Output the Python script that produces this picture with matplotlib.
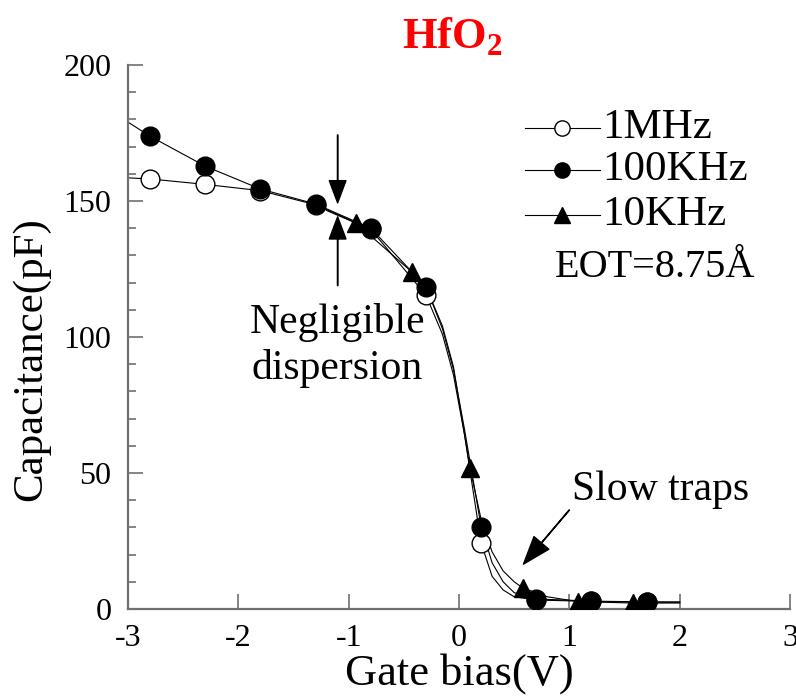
import numpy as np
import matplotlib
matplotlib.use("Agg")
import matplotlib.pyplot as plt

plt.rcParams['font.family'] = ['Liberation Serif', 'DejaVu Serif']
plt.rcParams['mathtext.fontset'] = 'custom'
plt.rcParams['mathtext.rm'] = 'Liberation Serif'
plt.rcParams['mathtext.bf'] = 'Liberation Serif:bold'

# marker data
v_1m = [-2.8, -2.3, -1.8, -1.3, -0.8, -0.3, 0.2, 0.7, 1.2, 1.7]
c_1m = [158.1, 156.1, 153.8, 148.6, 139.6, 115.4, 24.3, 3.3, 2.8, 2.5]

v_100k = [-2.8, -2.3, -1.8, -1.3, -0.8, -0.3, 0.2, 0.7, 1.2, 1.7]
c_100k = [173.8, 162.8, 154.4, 148.9, 140.0, 118.5, 30.3, 3.7, 2.9, 2.6]

v_10k = [-0.93, -0.43, 0.10, 0.58, 1.08, 1.58]
c_10k = [141.8, 124.0, 51.7, 7.7, 2.7, 2.2]

# fitted curves as they appear in the picture
v_1m_line = [-3.0, -2.8, -2.3, -1.8, -1.3, -0.8, -0.3, -0.15, -0.05, 0.05, 0.2, 0.3, 0.4, 0.5, 0.7, 1.2, 1.7, 2.0]
c_1m_line = [158.5, 158.1, 156.1, 153.8, 148.6, 139.6, 115.4, 101, 86, 64, 24.3, 12, 7, 4.5, 3.3, 2.8, 2.5, 2.5]

v_100k_line = [-3.0, -2.8, -2.3, -1.8, -1.3, -0.8, -0.3, -0.15, -0.05, 0.05, 0.2, 0.3, 0.4, 0.5, 0.7, 1.2, 1.7, 2.0]
c_100k_line = [179.0, 173.8, 162.8, 154.4, 148.9, 140.0, 118.5, 103, 88, 66, 30.3, 17, 10, 6, 3.7, 2.9, 2.6, 2.6]

v_10k_line = [-1.2, -0.93, -0.43, -0.3, -0.15, -0.05, 0.1, 0.2, 0.3, 0.4, 0.5, 0.58, 0.8, 1.08, 1.58, 2.0]
c_10k_line = [146.5, 141.8, 124.0, 118.5, 104, 89, 51.7, 33, 21, 14, 10, 7.7, 4.5, 2.7, 2.2, 2.2]

labels = ['1MHz', '100KHz', '10KHz']

fig = plt.figure(figsize=(7.96, 6.98), dpi=100)
ax = fig.add_axes([0.1608, 0.1275, 0.8317, 0.7794])

ax.plot(v_1m_line, c_1m_line, color='k', lw=0.8, zorder=2)
ax.plot(v_100k_line, c_100k_line, color='k', lw=0.8, zorder=2)
ax.plot(v_10k_line, c_10k_line, color='k', lw=0.8, zorder=2)

ax.plot(v_1m, c_1m, 'o', ms=13.5, mfc='white', mec='k', mew=1, zorder=3)
ax.plot(v_100k, c_100k, 'o', ms=13.5, mfc='k', mec='k', zorder=4)
ax.plot(v_10k, c_10k, '^', ms=13.5, mfc='k', mec='k', zorder=5)

# hand-placed legend (rows spaced like the original)
leg_y = [0.884, 0.807, 0.724]
leg_style = [dict(marker='o', mfc='white'), dict(marker='o', mfc='k'), dict(marker='^', mfc='k')]
for yy, lab, st in zip(leg_y, labels, leg_style):
    ax.plot([0.600, 0.713], [yy, yy], transform=ax.transAxes, color='k', lw=0.8, clip_on=False)
    ax.plot([0.656], [yy], transform=ax.transAxes, ls='none', ms=11, mec='k', mew=1,
            clip_on=False, **st)
    ax.text(0.717, yy, lab, transform=ax.transAxes, fontsize=31, va='center', ha='left')
ax.text(0.645, 0.627, 'EOT=8.75Å', transform=ax.transAxes, fontsize=29, va='center', ha='left')

# annotations
ax.annotate('', xy=(-1.1, 149.3), xytext=(-1.1, 174.3),
            arrowprops=dict(facecolor='k', edgecolor='k', width=0.3, headwidth=12, headlength=16, shrink=0))
ax.annotate('', xy=(-1.1, 144.2), xytext=(-1.1, 118.9),
            arrowprops=dict(facecolor='k', edgecolor='k', width=0.3, headwidth=12, headlength=16, shrink=0))
ax.text(-1.105, 105.5, 'Negligible', fontsize=30, ha='center', va='center')
ax.text(-1.105, 88.6, 'dispersion', fontsize=30, ha='center', va='center')

ax.annotate('', xy=(0.584, 16.5), xytext=(1.0, 36.4),
            arrowprops=dict(facecolor='k', edgecolor='k', width=0.3, headwidth=14, headlength=20, shrink=0))
ax.text(1.025, 43.7, 'Slow traps', fontsize=30, ha='left', va='center')

ax.set_xlim(-3, 3)
ax.set_ylim(0, 200)
ax.set_xticks(np.arange(-3, 4, 1))
ax.set_yticks(np.arange(0, 201, 50))
ax.set_yticks(np.arange(0, 201, 10), minor=True)
ax.set_xticklabels(['-3', '-2', '-1', '0', '1', '2', '3'])

for s in ['top', 'right']:
    ax.spines[s].set_visible(False)
for s in ['left', 'bottom']:
    ax.spines[s].set_color('#707070')
    ax.spines[s].set_linewidth(1.6)

ax.tick_params(axis='x', which='major', direction='in', length=11, width=1.2,
               color='#707070', labelsize=23, pad=11)
ax.tick_params(axis='y', which='major', direction='in', length=11, width=1.2,
               color='#707070', labelsize=23, pad=12)
ax.tick_params(axis='y', which='minor', direction='in', length=6, width=1.2, color='#707070')

ax.set_xlabel('Gate bias(V)', fontsize=32, labelpad=0)
ax.set_ylabel('Capacitance(pF)', fontsize=31)
ax.yaxis.set_label_coords(-0.118, 0.46)
ax.set_title(r'HfO$_\mathbf{2}$', fontsize=32, fontweight='bold', color='red', pad=12, x=0.49)

fig.savefig('out.png', dpi=100)
